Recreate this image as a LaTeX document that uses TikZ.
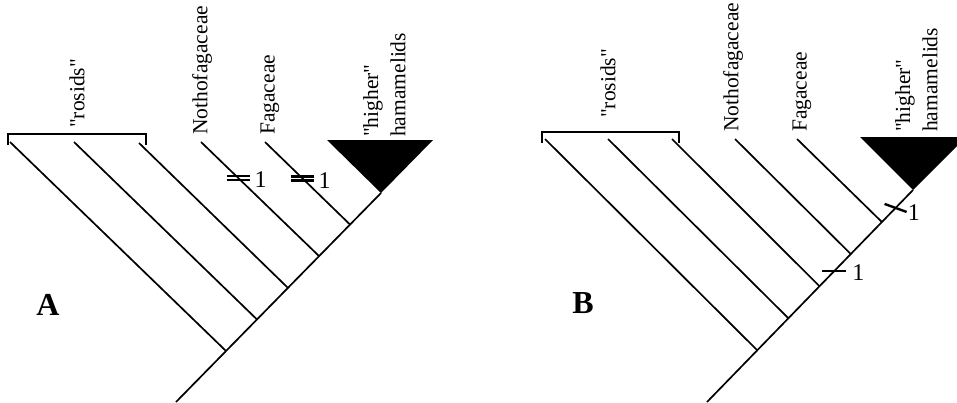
\documentclass[tikz,border=0pt]{standalone}
\usepackage{fontspec}
\setmainfont{Liberation Serif}
\usetikzlibrary{calc}
\font\taxfont="Liberation Serif" at 21.5pt
\font\numfont="Liberation Serif" at 24pt
\font\panelfont="Liberation Serif/B" at 32pt
\tikzset{
  branch/.style={line width=1.7pt},
  brk/.style={line width=1.4pt},
  markbar/.style={line width=2.4pt},
  taxon/.style={rotate=90, anchor=west, inner sep=0pt, font=\taxfont},
  num/.style={anchor=west, inner sep=0pt, font=\numfont},
  panel/.style={inner sep=0pt, font=\panelfont},
}
\begin{document}
\begin{tikzpicture}[x=1pt,y=-1pt]
\useasboundingbox (0,0) rectangle (957,402);
\clip (0,0) rectangle (957,402);

% ---------- Panel A ----------
\coordinate (aR) at (176,402);
\coordinate (aT) at (381,193);
\coordinate (a1) at ($(aR)!0.244!(aT)$);
\coordinate (a2) at ($(aR)!0.395!(aT)$);
\coordinate (a3) at ($(aR)!0.546!(aT)$);
\coordinate (a4) at ($(aR)!0.698!(aT)$);
\coordinate (a5) at ($(aR)!0.849!(aT)$);
\coordinate (aL1) at (10,142);
\coordinate (aL2) at (74,142);
\coordinate (aL3) at (139,143);
\coordinate (aL4) at (201,142);
\coordinate (aL5) at (265,142);
\coordinate (aTl) at (327,140);
\coordinate (aTr) at (433,140);
\draw[branch] (aR) -- (aT);
\draw[branch] (aL1) -- (a1);
\draw[branch] (aL2) -- (a2);
\draw[branch] (aL3) -- (a3);
\draw[branch] (aL4) -- (a4);
\draw[branch] (aL5) -- (a5);
\fill (aTl) -- (aTr) -- (aT) -- cycle;
\coordinate (aB1) at (8,145);
\coordinate (aB2) at (146,145);
\draw[brk] (aB1) |- (146,134) -- (aB2);
% marks
\coordinate (am1) at ($(aL4)!0.316!(a4)$);
\coordinate (am2) at ($(aL5)!0.44!(a5)$);
\foreach \m in {am1,am2}{
  \draw[markbar] ($(\m)+(-11.5,-2)$) -- ($(\m)+(11.5,-2)$);
  \draw[markbar] ($(\m)+(-11.5,2)$) -- ($(\m)+(11.5,2)$);
  \node[num] at ($(\m)+(16,2)$) {1};
}
% labels
\node[taxon] (aRos) at (77,128) {"rosids"};
\node[taxon] (aNot) at (202,135) {Nothofagaceae};
\node[taxon] (aFag) at (270,135) {Fagaceae};
\node[taxon] (aHi1) at (373,137) {"higher"};
\node[taxon] (aHi2) at (398,137) {hamamelids};
\node[panel] (aLab) at (48,305) {A};

% ---------- Panel B ----------
\coordinate (bR) at (707,402);
\coordinate (bT) at (913,190);
\coordinate (b1) at ($(bR)!0.244!(bT)$);
\coordinate (b2) at ($(bR)!0.395!(bT)$);
\coordinate (b3) at ($(bR)!0.546!(bT)$);
\coordinate (b4) at ($(bR)!0.698!(bT)$);
\coordinate (b5) at ($(bR)!0.849!(bT)$);
\coordinate (bL1) at (545,139);
\coordinate (bL2) at (608,139);
\coordinate (bL3) at (672,139);
\coordinate (bL4) at (735,139);
\coordinate (bL5) at (797,139);
\coordinate (bTl) at (860,137);
\coordinate (bTr) at (966,137);
\draw[branch] (bR) -- (bT);
\draw[branch] (bL1) -- (b1);
\draw[branch] (bL2) -- (b2);
\draw[branch] (bL3) -- (b3);
\draw[branch] (bL4) -- (b4);
\draw[branch] (bL5) -- (b5);
\fill (bTl) -- (bTr) -- (bT) -- cycle;
\coordinate (bB1) at (542,143);
\coordinate (bB2) at (679,143);
\draw[brk] (bB1) |- (679,132) -- (bB2);
% marks
\coordinate (bm1) at ($(b3)!0.47!(b4)$);
\draw[markbar] ($(bm1)+(-12,0)$) -- ($(bm1)+(12,0)$);
\node[num] at ($(bm1)+(18,1)$) {1};
\coordinate (bm2) at ($(b5)!0.44!(bT)$);
\draw[markbar] ($(bm2)+(-11,-4)$) -- ($(bm2)+(11,4)$);
\node[num] at ($(bm2)+(12,5)$) {1};
% labels
\node[taxon] (bRos) at (608,118) {"rosids"};
\node[taxon] (bNot) at (733,132) {Nothofagaceae};
\node[taxon] (bFag) at (802,132) {Fagaceae};
\node[taxon] (bHi1) at (905,132) {"higher"};
\node[taxon] (bHi2) at (930,132) {hamamelids};
\node[panel] (bLab) at (583,303) {B};
\end{tikzpicture}
\end{document}
